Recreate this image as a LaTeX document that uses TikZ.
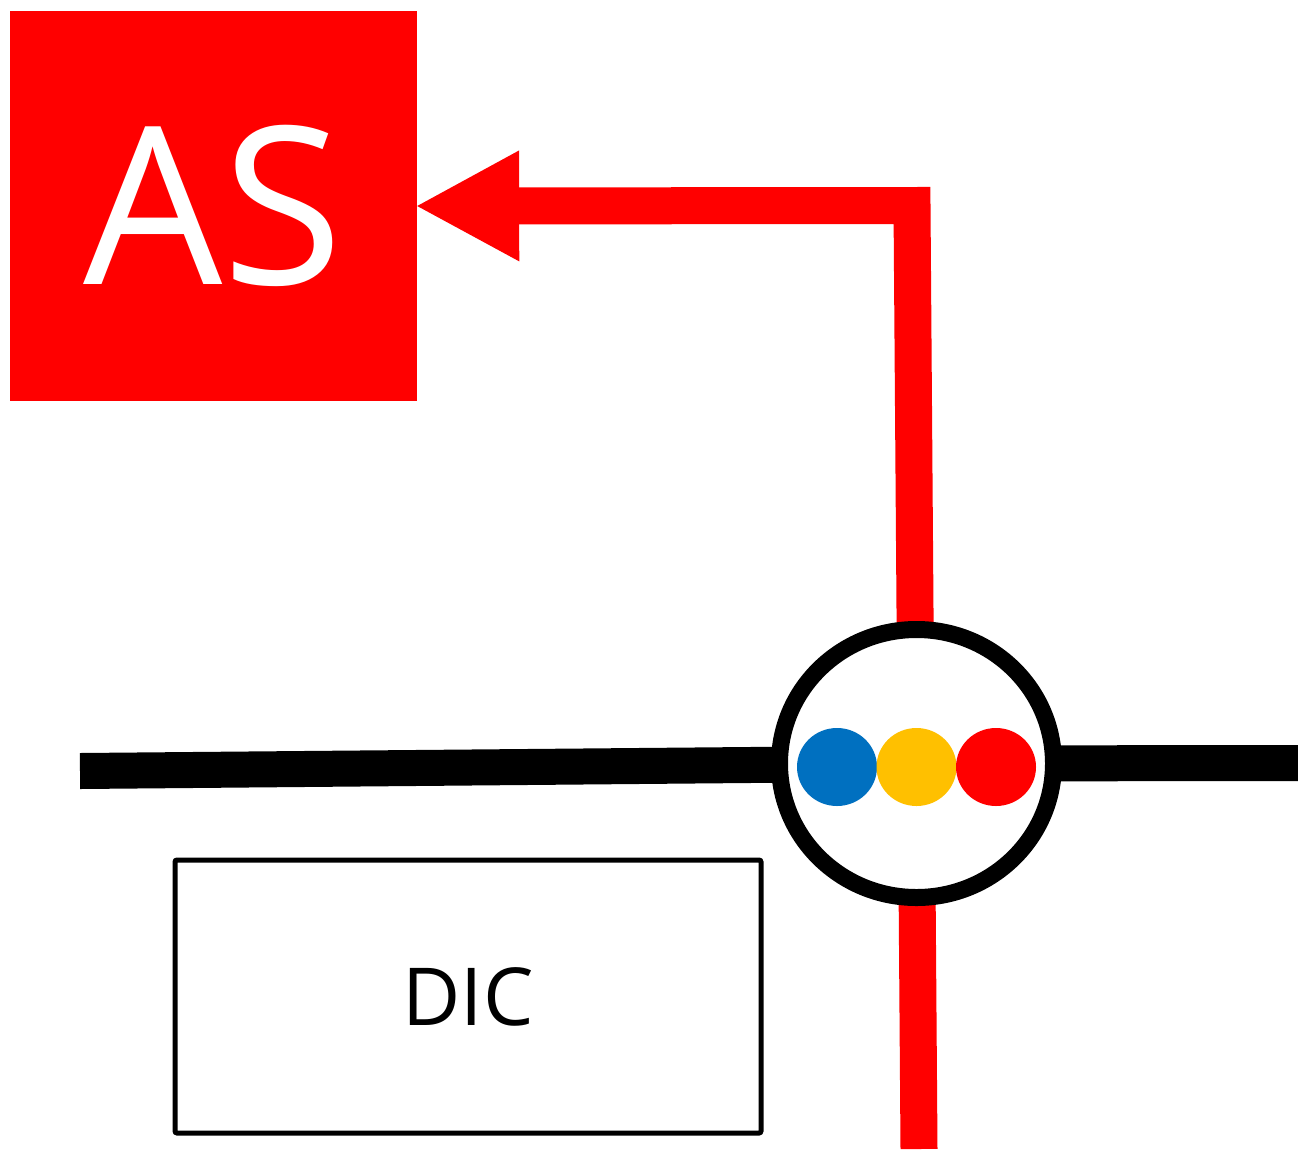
\documentclass[tikz,border=0pt]{standalone}
\usepackage{fontspec}
\setmainfont{Open Sans}
\usetikzlibrary{arrows.meta,shapes.geometric}
\definecolor{pred}{HTML}{FF0000}
\definecolor{pblue}{HTML}{0070C0}
\definecolor{pyellow}{HTML}{FFC000}
\begin{document}
\begin{tikzpicture}[x=1pt,y=-1pt,
  redline/.style={draw=pred,line width=37pt,line join=miter},
  blackline/.style={draw=black,line width=36pt},
  dot/.style={ellipse,minimum width=80pt,minimum height=78pt,inner sep=0pt,fill=#1},
  asbox/.style={rectangle,fill=pred,minimum width=407pt,minimum height=390pt,inner sep=0pt,
    text=white,font=\fontsize{220}{260}\selectfont},
  dicbox/.style={rectangle,draw=black,line width=5pt,rounded corners=2pt,
    minimum width=586pt,minimum height=273pt,inner sep=0pt,font=\fontsize{80}{96}\selectfont}
  ]
\useasboundingbox (0,0) rectangle (1298,1149);
% nodes and coordinates
\node[asbox] (AS) at (213.5,206) {AS};
\coordinate (hubc) at (916.5,763.5);
\coordinate (bot) at (919,1149);
\coordinate (corner) at (912,205.5);
\coordinate (left) at (80,771);
\coordinate (right) at (1298,763);
% connectors
\draw[redline,-{Triangle[length=102pt,width=111pt,line width=0pt]}] (bot) -- (corner) -- (AS.east);
\draw[blackline] (left) -- (hubc);
\draw[blackline] (hubc) -- (right);
% hub
\node[ellipse,draw=black,fill=white,line width=17pt,minimum width=274pt,minimum height=268pt,inner sep=0pt] (hub) at (hubc) {};
\node[dot=pblue] (db) at (837,767) {};
\node[dot=pyellow] (dy) at (916.5,767) {};
\node[dot=pred] (dr) at (996,767) {};
% DIC box
\node[dicbox] (DIC) at (468,996.5) {DIC};
\end{tikzpicture}
\end{document}
